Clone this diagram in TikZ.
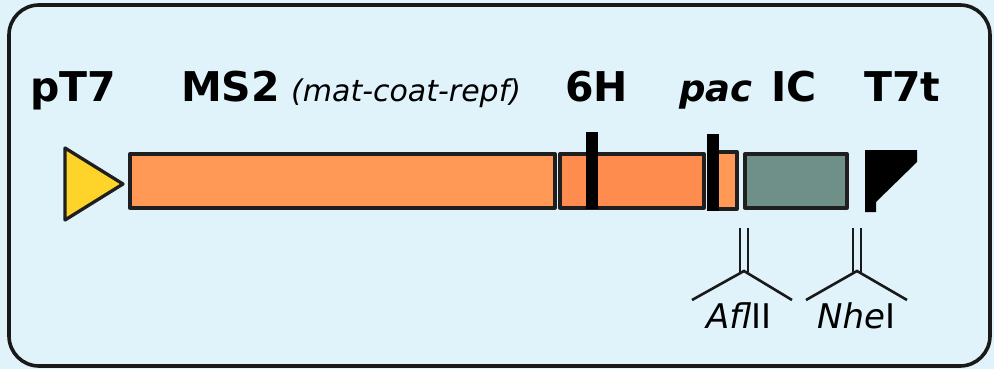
\documentclass[tikz,border=0pt]{standalone}
\usepackage{fontspec}
\setmainfont{DejaVu Sans}
\definecolor{bgblue}{HTML}{E0F2FA}
\definecolor{promyellow}{HTML}{FFD42A}
\definecolor{ms2orange}{HTML}{FF9955}
\definecolor{hisorange}{HTML}{FF8C4F}
\definecolor{icgreen}{HTML}{6F9088}
\tikzset{
  part/.style={draw=black!88,line width=3.3pt,line join=round},
  bigname/.style={inner sep=0pt,anchor=base west,font=\fontsize{41}{49}\selectfont\bfseries},
  sitename/.style={inner sep=0pt,anchor=base west,font=\fontsize{34}{40}\selectfont},
  cutsite/.style={line width=2.6pt,black!90}
}
\begin{document}
\begin{tikzpicture}[x=1pt,y=-1pt]
    \useasboundingbox (0,0) rectangle (994,369);
    \fill[bgblue] (0,0) rectangle (994,369);
    \draw[black!90,line width=3.6pt,rounded corners=30pt] (9,5) rectangle (990,366);

    % Labels above the construct
    \node[bigname] (pT7) at (30,102) {pT7};
    \node[bigname] (MS2) at (181,102) {MS2};
    \node[inner sep=0pt,anchor=base west,font=\fontsize{30}{36}\selectfont\itshape] (genes) at (291,102) {(mat-coat-repf)};
    \node[bigname] (sixH) at (565,102) {6H};
    \node[bigname,font=\fontsize{37}{44}\selectfont\bfseries\itshape] (pac) at (679,102) {pac};
    \node[bigname] (IC) at (771,102) {IC};
    \node[bigname] (T7t) at (864,102) {T7t};

    % Promoter and coding parts
    \filldraw[part,fill=promyellow] (65,148) -- (123,184) -- (65,220) -- cycle;
    \filldraw[part,fill=ms2orange] (130,154) rectangle (555,208);
    \filldraw[part,fill=hisorange] (560,154) rectangle (704,208);
    \filldraw[part,fill=ms2orange] (710,152) rectangle (737,209);
    \filldraw[part,fill=icgreen] (745,154) rectangle (847,208);

    % Black bars marking the tag and pac
    \fill[black] (586,132) rectangle (598,209);
    \fill[black] (707,134) rectangle (719,211);

    % Terminator
    \fill[black] (865,150) -- (917,150) -- (917,162) -- (876,202) -- (876,212) -- (865,212) -- cycle;

    % Restriction sites
    \draw[cutsite] (740,228) -- (740,272);
    \draw[cutsite] (748,228) -- (748,272);
    \draw[cutsite] (692,300) -- (744,271) -- (792,300);
    \node[sitename] (AflII) at (706,328) {\textit{Afl}II};
    \draw[cutsite] (853,228) -- (853,272);
    \draw[cutsite] (861,228) -- (861,272);
    \draw[cutsite] (806,300) -- (857,271) -- (907,300);
    \node[sitename] (NheI) at (817,328) {\textit{Nhe}I};
\end{tikzpicture}
\end{document}
